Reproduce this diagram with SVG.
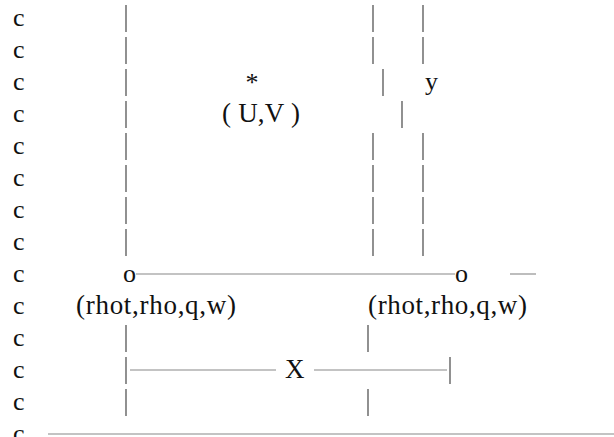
<svg xmlns="http://www.w3.org/2000/svg" width="614" height="437" viewBox="0 0 614 437">
  <style>
    text { font-family: "Liberation Serif", "DejaVu Serif", serif; font-size: 26px; fill: #111; }
    .wide { font-size: 27px; }
    .bar { stroke: #555; stroke-width: 1.3; }
    .rule { stroke: #888; stroke-width: 1.1; }
  </style>
  <rect width="614" height="437" fill="#fff"/>

  <!-- comment column -->
  <g id="comment-column">
    <text x="13" y="26">c</text>
    <text x="13" y="58">c</text>
    <text x="13" y="90">c</text>
    <text x="13" y="122">c</text>
    <text x="13" y="154">c</text>
    <text x="13" y="186">c</text>
    <text x="13" y="218">c</text>
    <text x="13" y="250">c</text>
    <text x="13" y="282">c</text>
    <text x="13" y="314">c</text>
    <text x="13" y="346">c</text>
    <text x="13" y="378">c</text>
    <text x="13" y="410">c</text>
    <text x="13" y="442">c</text>
  </g>

  <!-- cell centre (U,V) -->
  <g id="uv-point">
    <text x="252" y="91" text-anchor="middle">*</text>
    <text class="wide" x="222" y="122" textLength="78" lengthAdjust="spacing">( U,V )</text>
  </g>

  <!-- y axis label -->
  <g id="y-label">
    <text x="425" y="90">y</text>
  </g>

  <!-- left scalar point -->
  <g id="scalar-left">
    <text x="123" y="282">o</text>
    <text class="wide" x="76" y="314" textLength="160" lengthAdjust="spacing">(rhot,rho,q,w)</text>
  </g>

  <!-- right scalar point -->
  <g id="scalar-right">
    <text x="455" y="282">o</text>
    <text class="wide" x="368" y="314" textLength="159" lengthAdjust="spacing">(rhot,rho,q,w)</text>
  </g>

  <!-- x spacing label -->
  <g id="x-label">
    <text class="wide" x="285" y="378">X</text>
  </g>

  <!-- connectors: vertical bars and horizontal rules -->
  <g id="connectors">
    <!-- left cell wall -->
    <line class="bar" x1="126" y1="5" x2="126" y2="32"/>
    <line class="bar" x1="126" y1="37" x2="126" y2="64"/>
    <line class="bar" x1="126" y1="69" x2="126" y2="96"/>
    <line class="bar" x1="126" y1="101" x2="126" y2="128"/>
    <line class="bar" x1="126" y1="133" x2="126" y2="160"/>
    <line class="bar" x1="126" y1="165" x2="126" y2="192"/>
    <line class="bar" x1="126" y1="197" x2="126" y2="224"/>
    <line class="bar" x1="126" y1="229" x2="126" y2="256"/>
    <line class="bar" x1="126" y1="325" x2="126" y2="352"/>
    <line class="bar" x1="126" y1="357" x2="126" y2="384"/>
    <line class="bar" x1="126" y1="389" x2="126" y2="416"/>

    <!-- right cell wall pair -->
    <line class="bar" x1="373" y1="5" x2="373" y2="32"/>
    <line class="bar" x1="423" y1="5" x2="423" y2="32"/>
    <line class="bar" x1="373" y1="37" x2="373" y2="64"/>
    <line class="bar" x1="423" y1="37" x2="423" y2="64"/>
    <line class="bar" x1="383" y1="69" x2="383" y2="96"/>
    <line class="bar" x1="402" y1="101" x2="402" y2="128"/>
    <line class="bar" x1="373" y1="133" x2="373" y2="160"/>
    <line class="bar" x1="423" y1="133" x2="423" y2="160"/>
    <line class="bar" x1="373" y1="165" x2="373" y2="192"/>
    <line class="bar" x1="423" y1="165" x2="423" y2="192"/>
    <line class="bar" x1="373" y1="197" x2="373" y2="224"/>
    <line class="bar" x1="423" y1="197" x2="423" y2="224"/>
    <line class="bar" x1="373" y1="229" x2="373" y2="256"/>
    <line class="bar" x1="423" y1="229" x2="423" y2="256"/>

    <!-- bars below the right scalar point -->
    <line class="bar" x1="368" y1="325" x2="368" y2="352"/>
    <line class="bar" x1="450" y1="357" x2="450" y2="384"/>
    <line class="bar" x1="368" y1="389" x2="368" y2="416"/>

    <!-- link between the scalar points -->
    <line class="rule" x1="136" y1="274" x2="455" y2="274"/>
    <line class="rule" x1="510" y1="274" x2="536" y2="274"/>

    <!-- X spacing dimension -->
    <line class="rule" x1="130" y1="370" x2="276" y2="370"/>
    <line class="rule" x1="314" y1="370" x2="447" y2="370"/>

    <!-- ground line -->
    <line class="rule" x1="48" y1="434" x2="614" y2="434"/>
  </g>
</svg>
